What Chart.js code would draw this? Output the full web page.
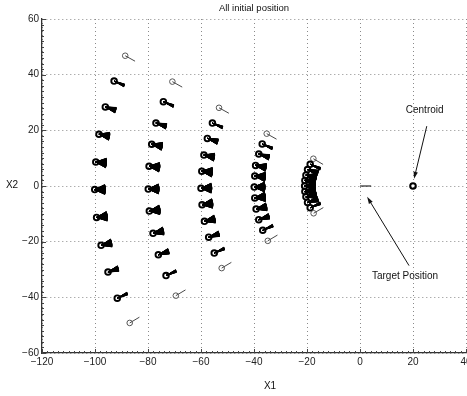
<!DOCTYPE html>
<html lang="en">
<head>
<meta charset="UTF-8">
<title>All initial position</title>
<script src="https://cdn.jsdelivr.net/npm/chart.js@4.4.0/dist/chart.umd.min.js"></script>
<style>
  html, body { margin: 0; padding: 0; background: #fff; }
  #c { display: block; }
</style>
</head>
<body>
<canvas id="c" width="467" height="396"></canvas>
<script>
// axis ticks
var xTicks = [-120, -100, -80, -60, -40, -20, 0, 20, 40];
var yTicks = [-60, -40, -20, 0, 20, 40, 60];

// initial positions of the agents, five arcs from outer to inner, top to bottom
var ring1X = [-88.6, -92.8, -96.1, -98.5, -99.7, -100.1, -99.4, -97.7, -95.1, -91.6, -86.9];
var ring1Y = [46.8, 37.7, 28.4, 18.6, 8.6, -1.3, -11.3, -21.3, -30.9, -40.3, -49.2];
var ring2X = [-70.8, -74.2, -77.0, -78.6, -79.6, -79.9, -79.5, -78.1, -76.1, -73.2, -69.5];
var ring2Y = [37.5, 30.3, 22.6, 15.0, 7.1, -1.1, -9.0, -17.0, -24.7, -32.2, -39.4];
var ring3X = [-53.2, -55.7, -57.6, -58.9, -59.7, -60.0, -59.6, -58.7, -57.1, -55.0, -52.2];
var ring3Y = [28.1, 22.6, 17.1, 11.1, 5.3, -0.8, -6.7, -12.7, -18.4, -24.1, -29.5];
var ring4X = [-35.2, -36.9, -38.2, -39.4, -39.7, -39.9, -39.7, -39.2, -38.2, -36.7, -34.8];
var ring4Y = [18.8, 15.1, 11.5, 7.4, 3.6, -0.4, -4.3, -8.3, -12.1, -15.9, -19.7];
var ring5X = [-17.6, -18.8, -19.8, -20.4, -20.8, -20.9, -20.8, -20.4, -19.8, -18.8, -17.5];
var ring5Y = [9.8, 7.8, 5.9, 3.9, 2.0, 0, -2.0, -3.9, -5.9, -7.8, -9.8];

// spread of the heading lines in degrees, per agent along an arc
var headingSpread = [0, 14, 28, 40, 48, 50, 48, 40, 28, 14, 0];

var targetX = [0, 4.2];
var targetY = [0, 0];
var centroidX = [20];
var centroidY = [0];

// text notes and their arrows (tail -> head)
var noteText = ['Centroid', 'Target Position'];
var noteX = [24.4, 17.0];
var noteY = [27.2, -32.6];
var arrowFromX = [25.2, 18.5];
var arrowFromY = [21.5, -28.6];
var arrowToX = [20.4, 2.7];
var arrowToY = [2.6, -3.9];

var rings = [[ring1X, ring1Y], [ring2X, ring2Y], [ring3X, ring3Y], [ring4X, ring4Y], [ring5X, ring5Y]];
var HEAD_LEN = 4.2;
var FONT = '"Liberation Sans", Arial, Helvetica, sans-serif';

var agents = [];
var agentWidth = [];
var agentColor = [];
var fans = [];
rings.forEach(function (r) {
  var xs = r[0], ys = r[1];
  for (var i = 0; i < xs.length; i++) {
    var x = xs[i], y = ys[i];
    var edge = (i === 0 || i === xs.length - 1);
    agents.push({ x: x, y: y });
    agentWidth.push(edge ? 1 : 1.9);
    agentColor.push(edge ? '#555' : '#000');
    // heading lines point at the target
    var a0 = Math.atan2(targetY[0] - y, targetX[0] - x);
    var s = headingSpread[i] * Math.PI / 180;
    var n = Math.round(headingSpread[i] / 2);
    for (var k = -n; k <= n; k++) {
      var a = a0 + (n ? k * s / (2 * n) : 0);
      fans.push({ x: x, y: y });
      fans.push({ x: x + HEAD_LEN * Math.cos(a), y: y + HEAD_LEN * Math.sin(a) });
    }
    fans.push({ x: x, y: null });
  }
});

function toPts(xs, ys) {
  return xs.map(function (v, i) { return { x: v, y: ys[i] }; });
}

var tickFont = { family: FONT, size: 10 };
function minusSign(v) { return String(v).replace('-', '\u2212'); }

var overlay = {
  id: 'overlay',
  afterDatasetsDraw: function (chart) {
    var ctx = chart.ctx, xs = chart.scales.x, ys = chart.scales.y, a = chart.chartArea;
    ctx.save();
    // minor ticks along the axes
    ctx.strokeStyle = '#444';
    ctx.lineWidth = 1;
    ctx.beginPath();
    for (var v = -120; v <= 40; v += 2) {
      var px = Math.round(xs.getPixelForValue(v)) + 0.5;
      var len = (v % 20 === 0) ? 4 : 2;
      ctx.moveTo(px, a.bottom); ctx.lineTo(px, a.bottom - len);
    }
    for (var w = -60; w <= 60; w += 2) {
      var py = Math.round(ys.getPixelForValue(w)) + 0.5;
      var len2 = (w % 20 === 0) ? 4 : 2;
      ctx.moveTo(a.left, py); ctx.lineTo(a.left + len2, py);
    }
    ctx.stroke();

    // notes with arrows
    ctx.fillStyle = '#111';
    ctx.strokeStyle = '#111';
    ctx.font = '10px ' + FONT;
    ctx.textAlign = 'center';
    ctx.textBaseline = 'middle';
    for (var i = 0; i < noteText.length; i++) {
      ctx.fillText(noteText[i], xs.getPixelForValue(noteX[i]), ys.getPixelForValue(noteY[i]));
      var x0 = xs.getPixelForValue(arrowFromX[i]), y0 = ys.getPixelForValue(arrowFromY[i]);
      var x1 = xs.getPixelForValue(arrowToX[i]), y1 = ys.getPixelForValue(arrowToY[i]);
      var ang = Math.atan2(y1 - y0, x1 - x0);
      ctx.lineWidth = 1;
      ctx.beginPath(); ctx.moveTo(x0, y0); ctx.lineTo(x1 - 5 * Math.cos(ang), y1 - 5 * Math.sin(ang)); ctx.stroke();
      ctx.beginPath();
      ctx.moveTo(x1, y1);
      ctx.lineTo(x1 - 7 * Math.cos(ang) + 2.2 * Math.sin(ang), y1 - 7 * Math.sin(ang) - 2.2 * Math.cos(ang));
      ctx.lineTo(x1 - 7 * Math.cos(ang) - 2.2 * Math.sin(ang), y1 - 7 * Math.sin(ang) + 2.2 * Math.cos(ang));
      ctx.closePath(); ctx.fill();
    }

    // x tick labels drawn here so the edge label "40" is clipped like the original
    ctx.fillStyle = '#222';
    ctx.font = '10px ' + FONT;
    xTicks.forEach(function (t) {
      ctx.fillText(minusSign(t), xs.getPixelForValue(t), a.bottom + 9);
    });

    // title and axis names
    ctx.fillStyle = '#111';
    ctx.font = '9.5px ' + FONT;
    ctx.fillText('All initial position', (a.left + a.right) / 2, 8);
    ctx.font = '10px ' + FONT;
    ctx.fillText('X1', 270, 386);
    ctx.fillText('X2', 12, 185);
    ctx.restore();
  }
};

new Chart(document.getElementById('c'), {
  type: 'scatter',
  data: {
    datasets: [
      {
        data: agents,
        pointStyle: 'circle',
        pointRadius: 2.8,
        pointBorderWidth: agentWidth,
        pointBorderColor: agentColor,
        pointBackgroundColor: 'rgba(255,255,255,0)',
        order: 1
      },
      {
        data: fans,
        showLine: true,
        spanGaps: false,
        borderColor: 'rgba(0,0,0,0.9)',
        borderWidth: 0.8,
        borderJoinStyle: 'round',
        pointRadius: 0,
        order: 2
      },
      {
        data: toPts(centroidX, centroidY),
        pointStyle: 'circle',
        pointRadius: 2.8,
        pointBorderWidth: 2,
        pointBorderColor: '#000',
        pointBackgroundColor: 'rgba(255,255,255,0)',
        order: 0
      },
      {
        data: toPts(targetX, targetY),
        showLine: true,
        borderColor: '#000',
        borderWidth: 1,
        pointRadius: 0,
        order: 3
      }
    ]
  },
  options: {
    responsive: false,
    animation: false,
    devicePixelRatio: 1,
    layout: { autoPadding: false, padding: { top: 19, right: 1, left: 0, bottom: 0 } },
    plugins: { legend: { display: false }, tooltip: { enabled: false }, title: { display: false } },
    scales: {
      x: {
        type: 'linear', min: -120, max: 40,
        afterBuildTicks: function (s) { s.ticks = xTicks.map(function (v) { return { value: v }; }); },
        afterFit: function (s) { s.height = 43; },
        ticks: { display: false },
        grid: { color: '#8a8a8a', lineWidth: 1, drawTicks: false },
        border: { display: true, color: '#333', width: 1.3, dash: [1, 3] }
      },
      y: {
        type: 'linear', min: -60, max: 60,
        afterBuildTicks: function (s) { s.ticks = yTicks.map(function (v) { return { value: v }; }); },
        afterFit: function (s) { s.width = 42; },
        ticks: { font: tickFont, color: '#222', padding: 3, autoSkip: false, callback: minusSign },
        grid: { color: '#8a8a8a', lineWidth: 1, drawTicks: false },
        border: { display: true, color: '#333', width: 1.3, dash: [1, 3] }
      }
    }
  },
  plugins: [overlay]
});
</script>
</body>
</html>
